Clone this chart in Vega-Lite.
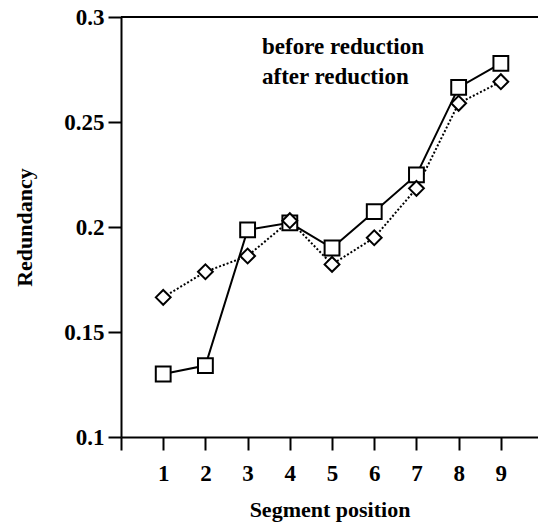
{
  "$schema": "https://vega.github.io/schema/vega-lite/v6.json",
  "autosize": {"type": "none"},
  "padding": {"left": 121, "top": 17, "right": 0, "bottom": 90},
  "width": 417,
  "height": 420,
  "background": "white",
  "config": {
    "view": {"stroke": null},
    "font": "Liberation Serif",
    "axis": {
      "domainColor": "black", "domainWidth": 2, "tickColor": "black", "tickWidth": 2,
      "labelFont": "Liberation Serif", "labelFontWeight": "bold", "labelFontSize": 23, "labelColor": "black",
      "titleFont": "Liberation Serif", "titleFontWeight": "bold", "titleFontSize": 22, "titleColor": "black",
      "grid": false
    }
  },
  "data": {
    "values": [
      {"pos": 1, "series": "before reduction", "r": 0.130},
      {"pos": 2, "series": "before reduction", "r": 0.134},
      {"pos": 3, "series": "before reduction", "r": 0.1986},
      {"pos": 4, "series": "before reduction", "r": 0.202},
      {"pos": 5, "series": "before reduction", "r": 0.190},
      {"pos": 6, "series": "before reduction", "r": 0.2073},
      {"pos": 7, "series": "before reduction", "r": 0.2248},
      {"pos": 8, "series": "before reduction", "r": 0.2665},
      {"pos": 9, "series": "before reduction", "r": 0.2779},
      {"pos": 1, "series": "after reduction", "r": 0.1665},
      {"pos": 2, "series": "after reduction", "r": 0.1787},
      {"pos": 3, "series": "after reduction", "r": 0.1862},
      {"pos": 4, "series": "after reduction", "r": 0.203},
      {"pos": 5, "series": "after reduction", "r": 0.1822},
      {"pos": 6, "series": "after reduction", "r": 0.1949},
      {"pos": 7, "series": "after reduction", "r": 0.2184},
      {"pos": 8, "series": "after reduction", "r": 0.2589},
      {"pos": 9, "series": "after reduction", "r": 0.2692}
    ]
  },
  "encoding": {
    "x": {
      "field": "pos", "type": "quantitative",
      "scale": {"domain": [0, 9.88], "nice": false, "zero": false},
      "axis": {"title": "Segment position", "values": [0,1,2,3,4,5,6,7,8,9], "labelExpr": "datum.value == 0 ? '' : datum.label", "tickSize": 13, "labelPadding": 12, "titlePadding": 14}
    },
    "y": {
      "field": "r", "type": "quantitative",
      "scale": {"domain": [0.1, 0.3], "nice": false, "zero": false},
      "axis": {"title": "Redundancy", "values": [0.1, 0.15, 0.2, 0.25, 0.3], "format": ".2~f", "tickSize": 13, "labelPadding": 4, "titlePadding": 27}
    }
  },
  "layer": [
    {
      "mark": {"type": "rule", "color": "black", "strokeWidth": 2},
      "encoding": {"y": {"datum": 0.3}, "x": {"datum": 0}, "x2": {"datum": 9.88}}
    },
    {
      "transform": [{"filter": "datum.series === 'before reduction'"}],
      "mark": {"type": "line", "color": "black", "strokeWidth": 2},
      "encoding": {}
    },
    {
      "transform": [{"filter": "datum.series === 'after reduction'"}],
      "mark": {"type": "line", "color": "black", "strokeWidth": 2, "strokeDash": [2, 2]},
      "encoding": {}
    },
    {
      "mark": {"type": "point", "filled": true, "fill": "white", "stroke": "black", "strokeWidth": 2, "opacity": 1, "size": 220},
      "encoding": {
        "shape": {
          "field": "series", "type": "nominal",
          "scale": {"domain": ["before reduction", "after reduction"], "range": ["square", "diamond"]},
          "legend": {
            "title": null,
            "orient": "none",
            "legendX": 50,
            "legendY": 18,
            "padding": 0,
            "symbolSize": 256,
            "symbolStrokeWidth": 2,
            "symbolStrokeColor": "black",
            "symbolFillColor": "white",
            "labelOffset": 68,
            "labelLimit": 400,
            "labelFont": "Liberation Serif",
            "labelFontWeight": "bold",
            "labelFontSize": 23,
            "labelColor": "black",
            "rowPadding": 5
          }
        }
      }
    }
  ]
}
